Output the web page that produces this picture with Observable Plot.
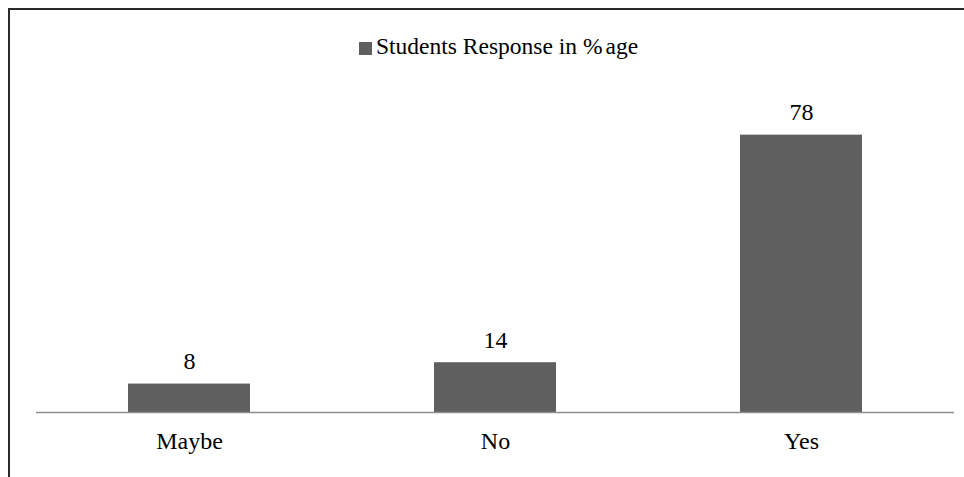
<!DOCTYPE html>
<html>
<head>
<meta charset="utf-8">
<script src="https://cdn.jsdelivr.net/npm/d3@7"></script>
<script src="https://cdn.jsdelivr.net/npm/@observablehq/plot@0.6"></script>
<style>
  html, body { margin: 0; padding: 0; background: #fff; }
  #wrap { position: relative; width: 964px; height: 477px; overflow: hidden;
          font-family: "Liberation Serif", "Times New Roman", serif; }
  #frame { position: absolute; left: 8px; top: 8px; right: -4px; bottom: -4px;
           border-top: 2px solid #2a2a2a; border-left: 2px solid #2a2a2a; }
  #legend { position: absolute; left: 359px; top: 33px; font-size: 23.5px; color: #000;
            white-space: nowrap; line-height: 26px; }
  #legend .sw { display: inline-block; width: 13px; height: 13px; background: #5f5f5f;
                margin-right: 4px; vertical-align: -1px; }
  #legend .pc { margin-right: 3px; }
  #chart { position: absolute; left: 0; top: 0; }
</style>
</head>
<body>
<div id="wrap">
  <div id="chart"></div>
  <div id="frame"></div>
  <div id="legend"><span class="sw"></span>Students Response in <span class="pc">%</span>age</div>
</div>
<script>
// Survey answers and the share of students giving each one
const categories = ["Maybe", "No", "Yes"];
const responses = [8, 14, 78];

const rows = categories.map((c, i) => ({answer: c, pct: responses[i]}));

const chart = Plot.plot({
  width: 964,
  height: 477,
  marginLeft: 36,
  marginRight: 10,
  marginTop: 92,
  marginBottom: 65,
  style: {fontFamily: '"Liberation Serif", "Times New Roman", serif', fontSize: "24px", background: "transparent", color: "#000"},
  x: {domain: categories, paddingInner: 0.6, paddingOuter: 0.3, label: null, tickSize: 0, tickPadding: 19},
  y: {domain: [0, 90], axis: null},
  marks: [
    Plot.barY(rows, {x: "answer", y: "pct", fill: "#5f5f5f"}),
    Plot.ruleY([0], {stroke: "#8e8e8e", strokeWidth: 1.5}),
    Plot.text(rows, {x: "answer", y: "pct", text: d => String(d.pct), lineAnchor: "bottom", dy: -15, fill: "#000", fontSize: 24})
  ]
});
document.getElementById("chart").appendChild(chart);
</script>
</body>
</html>
